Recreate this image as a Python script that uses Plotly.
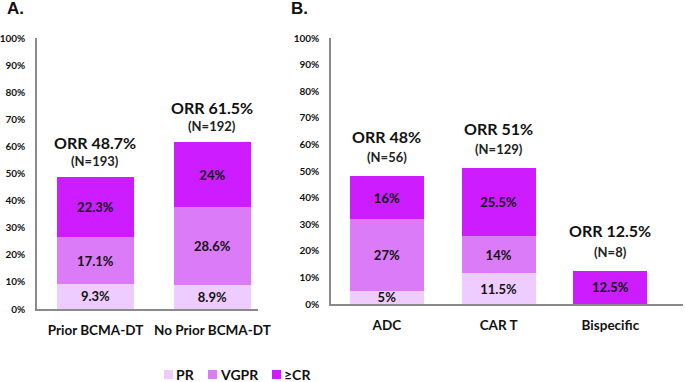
import plotly.graph_objects as go

# Panel A data
cats_a = ["Prior BCMA-DT", "No Prior BCMA-DT"]
pr_a = [9.3, 8.9]
vgpr_a = [17.1, 28.6]
cr_a = [22.3, 24]
orr_a = ["ORR 48.7%", "ORR 61.5%"]
n_a = ["(N=193)", "(N=192)"]

# Panel B data
cats_b = ["ADC", "CAR T", "Bispecific"]
pr_b = [5, 11.5, 0]
vgpr_b = [27, 14, 0]
cr_b = [16, 25.5, 12.5]
orr_b = ["ORR 48%", "ORR 51%", "ORR 12.5%"]
n_b = ["(N=56)", "(N=129)", "(N=8)"]

series_names = ["PR", "VGPR", "≥CR"]
colors = ["#EFCCFF", "#DB7BF8", "#CD1CFF"]

FONT = "Lato"
W, H = 685, 382

def lab(v):
    return ("%g" % v) + "%" if v > 0 else ""

fig = go.Figure()

for (cats, series, xa, ya) in [
    (cats_a, [pr_a, vgpr_a, cr_a], "x", "y"),
    (cats_b, [pr_b, vgpr_b, cr_b], "x2", "y2"),
]:
    for name, vals, col in zip(series_names, series, colors):
        fig.add_trace(go.Bar(
            x=cats, y=vals, name=name, marker=dict(color=col, line=dict(width=0)),
            text=[lab(v) for v in vals], textposition="inside",
            insidetextanchor="middle", textangle=0, constraintext="none",
            textfont=dict(family=FONT, size=13, color="#111111", weight="bold"),
            width=0.66, xaxis=xa, yaxis=ya, showlegend=False,
            hoverinfo="skip",
        ))

annotations = []
for cats, prs, vgs, crs, orrs, ns, xr, yr, s1, s2 in [
    (cats_a, pr_a, vgpr_a, cr_a, orr_a, n_a, "x", "y", 35, 16),
    (cats_b, pr_b, vgpr_b, cr_b, orr_b, n_b, "x2", "y2", 40, 19),
]:
    for c, p, v, r, o, n in zip(cats, prs, vgs, crs, orrs, ns):
        tot = p + v + r
        annotations.append(dict(x=c, y=tot, xref=xr, yref=yr, text="<b>%s</b>" % o,
                                showarrow=False, yanchor="middle", yshift=s1,
                                font=dict(family=FONT, size=16, color="#111111")))
        annotations.append(dict(x=c, y=tot, xref=xr, yref=yr, text="<b>%s</b>" % n,
                                showarrow=False, yanchor="middle", yshift=s2,
                                font=dict(family=FONT, size=13, color="#222222")))

annotations.append(dict(x=5 / W, y=1 - 9 / H, xref="paper", yref="paper", text="<b>A.</b>",
                        showarrow=False, xanchor="left", yanchor="middle",
                        font=dict(family="Liberation Sans", size=17, color="#111111")))
annotations.append(dict(x=289 / W, y=1 - 9 / H, xref="paper", yref="paper", text="<b>B.</b>",
                        showarrow=False, xanchor="left", yanchor="middle",
                        font=dict(family="Liberation Sans", size=17, color="#111111")))

# manual legend (swatches + labels)
shapes = []
leg_x = [164, 208, 272]
for name, col, lx in zip(series_names, colors, leg_x):
    shapes.append(dict(type="rect", xref="paper", yref="paper",
                       x0=lx / W, x1=(lx + 9) / W, y0=1 - 379 / H, y1=1 - 370 / H,
                       fillcolor=col, line=dict(width=0)))
    annotations.append(dict(x=(lx + 11) / W, y=1 - 374 / H, xref="paper", yref="paper",
                            text="<b>%s</b>" % name, showarrow=False, xanchor="left",
                            yanchor="middle", borderpad=0,
                            font=dict(family=FONT, size=14, color="#111111")))

yaxis_common = dict(range=[0, 100], dtick=10, ticksuffix="%", showgrid=False, zeroline=False,
                    showline=True, linecolor="#8a8a8a", linewidth=1.5, ticks="",
                    ticklabelstandoff=8,
                    tickfont=dict(family=FONT, size=10, color="#111111", weight="bold"),
                    automargin=False, fixedrange=True)
xaxis_common = dict(showgrid=False, zeroline=False, showline=True, linecolor="#8a8a8a",
                    linewidth=1.5, ticks="", ticklabelstandoff=8,
                    tickfont=dict(family=FONT, size=13.5, color="#111111", weight="bold"),
                    automargin=False, fixedrange=True)

fig.update_layout(
    width=W, height=H,
    margin=dict(l=0, r=0, t=0, b=0),
    paper_bgcolor="white", plot_bgcolor="white",
    barmode="stack", bargap=0.34,
    xaxis=dict(domain=[37 / W, 258 / W], range=[-0.5, 1.39], anchor="y", **xaxis_common),
    yaxis=dict(domain=[1 - 309 / H, 1 - 38 / H], anchor="x", **yaxis_common),
    xaxis2=dict(domain=[331 / W, 683 / W], range=[-0.5, 2.65], anchor="y2", **xaxis_common),
    yaxis2=dict(domain=[1 - 304 / H, 1 - 38 / H], anchor="x2", **yaxis_common),
    annotations=annotations,
    shapes=shapes,
    showlegend=False,
)

fig.write_html("out.html", config={"displayModeBar": False},
               post_script="document.body.style.margin='0';")
